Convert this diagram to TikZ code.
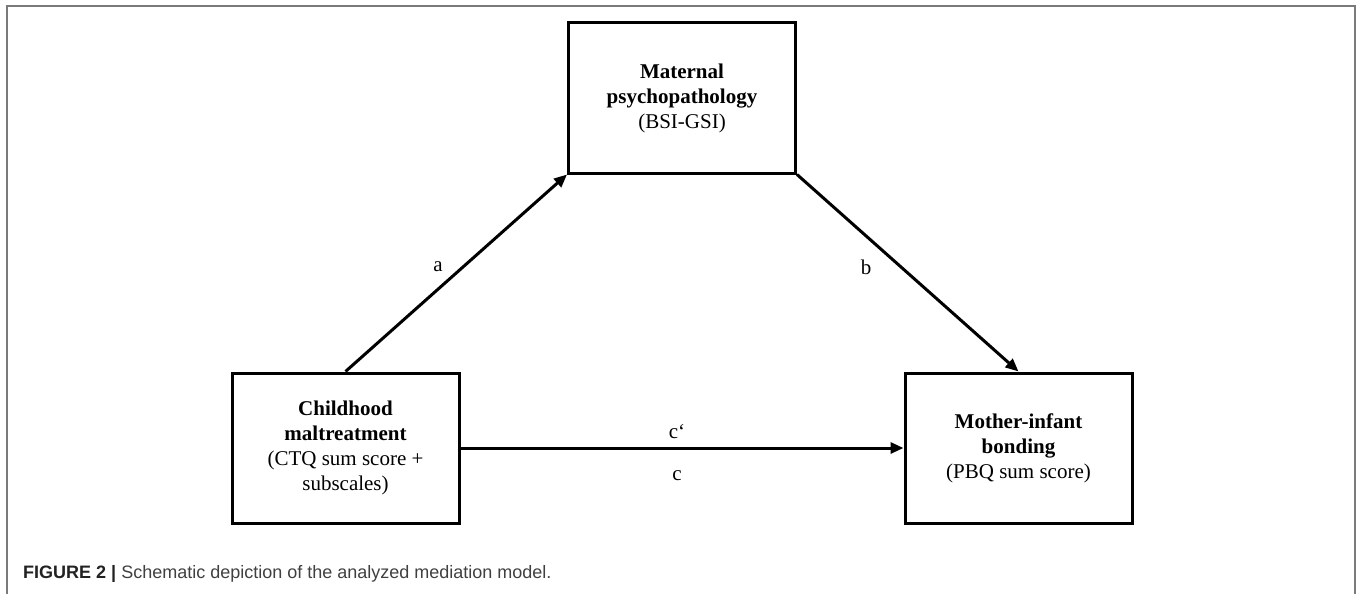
\documentclass[tikz,border=0pt]{standalone}
\usepackage{fontspec}
\setmainfont{Liberation Serif}
\newfontfamily\capfont{Liberation Sans}
\usetikzlibrary{arrows.meta}
\definecolor{frameGray}{HTML}{7A7A7A}
\definecolor{capDark}{HTML}{222222}
\definecolor{capText}{HTML}{404040}
\tikzset{
  varbox/.style={draw=black, line width=3pt, minimum width=227pt, minimum height=150pt,
    align=center, inner sep=0pt, font=\fontsize{21}{25}\selectfont},
  pathline/.style={line width=3pt, -{Triangle[length=13pt,width=11pt]}},
  pathlabel/.style={font=\fontsize{21}{25}\selectfont, inner sep=0pt},
}
\begin{document}
\begin{tikzpicture}[x=1pt,y=-1pt]
\useasboundingbox (0,0) rectangle (1357,594);
\draw[frameGray, line width=1.5pt] (7,594) -- (7,6) -- (1355,6) -- (1355,594);

\node[varbox] (med) at (682,98) {\textbf{Maternal}\\\textbf{psychopathology}\\(BSI-GSI)};
\node[varbox] (x) at (345.5,448) {\textbf{Childhood}\\\textbf{maltreatment}\\(CTQ sum score +\\subscales)};
\node[varbox] (y) at (1018.5,448) {\textbf{Mother-infant}\\\textbf{bonding}\\(PBQ sum score)};

\draw[pathline] (x.north) -- (med.south west);
\draw[pathline] (med.south east) -- (y.north);
\draw[pathline] (x.east) -- (y.west);

\node[pathlabel] (la) at (438,267) {a};
\node[pathlabel] (lb) at (866,267) {b};
\node[pathlabel] (lcp) at (677,432) {c‘};
\node[pathlabel] (lc) at (677,476) {c};

\node[anchor=base west, inner sep=0pt, font=\capfont\fontsize{18}{22}\selectfont, text=capText] (cap) at (23,578)
  {\textcolor{capDark}{\bfseries FIGURE 2 |} Schematic depiction of the analyzed mediation model.};
\end{tikzpicture}
\end{document}
